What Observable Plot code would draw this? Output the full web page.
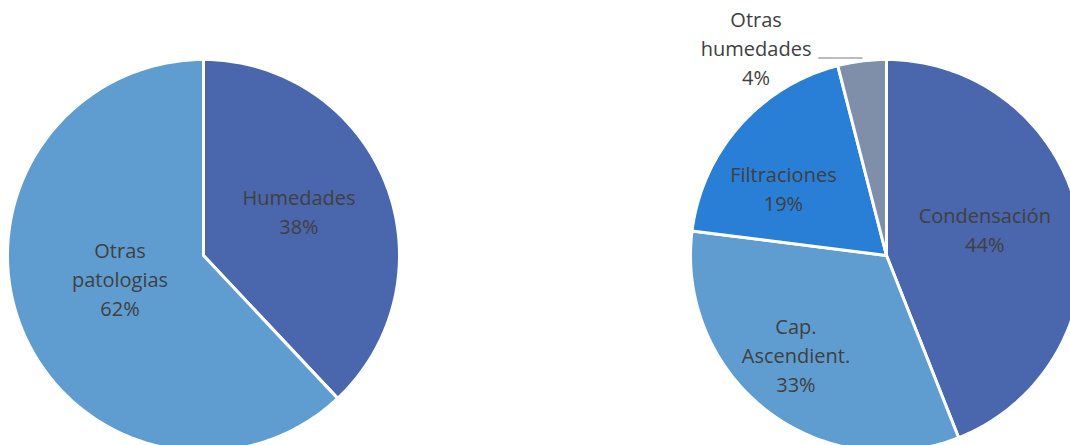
<!DOCTYPE html>
<html>
<head>
<meta charset="utf-8">
<script src="https://cdn.jsdelivr.net/npm/d3@7"></script>
<script src="https://cdn.jsdelivr.net/npm/@observablehq/plot@0.6"></script>
<style>
  html, body { margin: 0; padding: 0; background: #fff; overflow: hidden; }
  #chart svg { display: block; }
</style>
</head>
<body>
<div id="chart"></div>
<script>
// ---- Data ----
const leftCategories = ["Humedades", "Otras patologias"];
const leftLabels = ["Humedades", "Otras\npatologias"];
const leftValues = [38, 62];

const rightCategories = ["Condensación", "Cap. Ascendient.", "Filtraciones", "Otras humedades"];
const rightLabels = ["Condensación", "Cap.\nAscendient.", "Filtraciones", "Otras\nhumedades"];
const rightValues = [44, 33, 19, 4];

// ---- Styling / layout ----
const colorDomain = ["Humedades", "Otras patologias", "Condensación", "Cap. Ascendient.", "Filtraciones", "Otras humedades"];
const colorRange  = ["#4a66ad", "#5f9dd1", "#4a66ad", "#5f9dd1", "#297ed5", "#7f8fa9"];
// label placement inside slices: fraction of radius and angular shift (degrees) from slice middle
const labelRadius = {"Humedades": 0.54, "Otras patologias": 0.44, "Condensación": 0.52, "Cap. Ascendient.": 0.68, "Filtraciones": 0.63};
const labelShift  = {"Humedades": -4, "Otras patologias": 7, "Condensación": -4.5, "Cap. Ascendient.": 5, "Filtraciones": -8};
const outsideLabels = new Set(["Otras humedades"]);

const W = 1070, H = 445, PX = 196;       // pixels per unit radius
const leftCx = 0, rightCx = (886 - 203) / PX;
const xDomain = [-203 / PX, (W - 203) / PX];
const yDomain = [-(H - 255) / PX, 255 / PX];

function buildPie(cats, vals, labels, cx) {
  const total = d3.sum(vals);
  const polys = [], texts = [], leaders = [];
  let a = 0;
  cats.forEach((c, i) => {
    const a0 = a, a1 = a + vals[i] / total * 2 * Math.PI;
    a = a1;
    const n = Math.max(2, Math.ceil((a1 - a0) / (Math.PI / 180)));
    polys.push({cat: c, x: cx, y: 0});
    for (let k = 0; k <= n; k++) {
      const t = a0 + (a1 - a0) * k / n;
      polys.push({cat: c, x: cx + Math.sin(t), y: Math.cos(t)});
    }
    polys.push({cat: c, x: cx, y: 0});
    const mid = (a0 + a1) / 2;
    const text = labels[i] + "\n" + vals[i] + "%";
    if (outsideLabels.has(c)) {
      const sx = cx + Math.sin(mid), sy = Math.cos(mid) + 0.015;
      const ex = sx - 0.22;
      leaders.push({id: c, x: sx, y: sy}, {id: c, x: ex, y: sy});
      texts.push({text, x: ex - 0.32, y: sy + 0.06});
    } else {
      const r = labelRadius[c];
      const t = mid + labelShift[c] * Math.PI / 180;
      texts.push({text, x: cx + r * Math.sin(t), y: r * Math.cos(t)});
    }
  });
  return {polys, texts, leaders};
}

const L = buildPie(leftCategories, leftValues, leftLabels, leftCx);
const Rp = buildPie(rightCategories, rightValues, rightLabels, rightCx);
const polys = L.polys.concat(Rp.polys);
const texts = L.texts.concat(Rp.texts);
const leaders = L.leaders.concat(Rp.leaders);

const chart = Plot.plot({
  width: W,
  height: H,
  margin: 0,
  x: {domain: xDomain, axis: null},
  y: {domain: yDomain, axis: null},
  color: {domain: colorDomain, range: colorRange},
  style: {fontFamily: "'Open Sans', sans-serif", background: "#fff"},
  marks: [
    Plot.line(polys, {x: "x", y: "y", z: "cat", fill: "cat", stroke: "#fff", strokeWidth: 3, strokeLinejoin: "round", curve: "linear"}),
    Plot.line(leaders, {x: "x", y: "y", z: "id", stroke: "#a6a6a6", strokeWidth: 1.5}),
    Plot.text(texts, {x: "x", y: "y", text: "text", fill: "#404040", fontSize: 20, lineHeight: 1.45, lineAnchor: "middle", textAnchor: "middle"})
  ]
});
document.getElementById("chart").appendChild(chart);
</script>
</body>
</html>
